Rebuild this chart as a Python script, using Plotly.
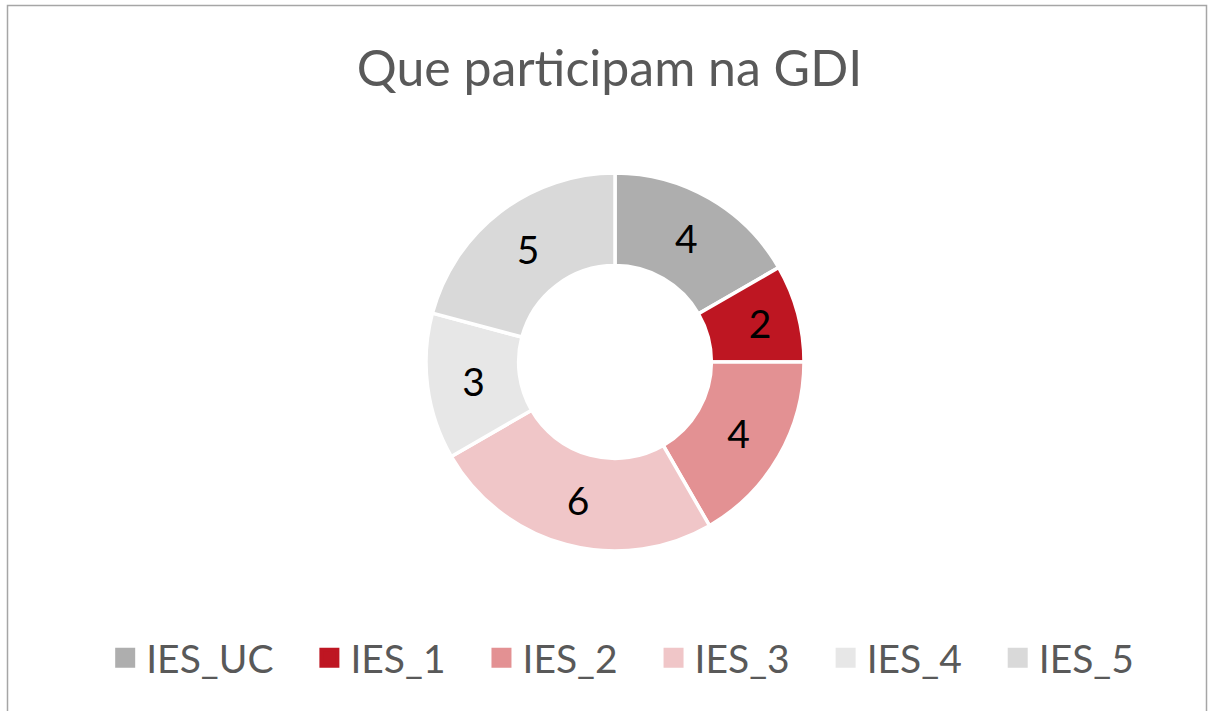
import plotly.graph_objects as go

labels = ["IES_UC", "IES_1", "IES_2", "IES_3", "IES_4", "IES_5"]
values = [4, 2, 4, 6, 3, 5]
colors = ["#AEAEAE", "#BE1622", "#E39193", "#F0C6C8", "#E7E7E7", "#D9D9D9"]
title_text = "Que participam na GDI"

W, H = 1219, 711
cx, cy, R = 615, 362, 189

fig = go.Figure()
fig.add_trace(go.Pie(
    labels=labels,
    values=values,
    hole=0.51,
    sort=False,
    direction="clockwise",
    rotation=0,
    showlegend=False,
    marker=dict(colors=colors, line=dict(color="white", width=3.5)),
    textinfo="value",
    textposition="inside",
    insidetextorientation="horizontal",
    textfont=dict(family="Lato", size=39, color="black"),
    domain=dict(x=[(cx - R) / W, (cx + R) / W], y=[(H - cy - R) / H, (H - cy + R) / H]),
))

# legend entries (square swatches) matching the slices
pad = "\u00a0" * 3
for i, (lab, col) in enumerate(zip(labels, colors)):
    fig.add_trace(go.Scatter(
        x=[None], y=[None], mode="markers",
        name=lab + (pad if i < len(labels) - 1 else ""),
        marker=dict(symbol="square", size=16, color=col, line=dict(color=col, width=4)),
    ))

fig.update_layout(
    width=W, height=H,
    margin=dict(l=0, r=0, t=0, b=0),
    paper_bgcolor="white",
    plot_bgcolor="white",
    xaxis=dict(visible=False),
    yaxis=dict(visible=False),
    title=dict(text=title_text, x=0.5, xanchor="center", y=1 - 68 / H, yanchor="middle",
               font=dict(family="Lato", size=50, color="#595959")),
    legend=dict(orientation="h", x=0.51, xanchor="center", y=1 - 658 / H, yanchor="middle",
                font=dict(family="Lato", size=39, color="#595959"), itemwidth=32,
                traceorder="normal", bgcolor="rgba(0,0,0,0)"),
    shapes=[dict(type="rect", xref="paper", yref="paper", x0=7.5 / W, x1=1206.5 / W,
                 y0=-0.05, y1=1 - 5.5 / H, line=dict(color="#A6A6A6", width=1.5),
                 fillcolor="rgba(0,0,0,0)", layer="below")],
)

fig.write_html("out.html", config={"displayModeBar": False},
               post_script="document.body.style.margin='0';")
